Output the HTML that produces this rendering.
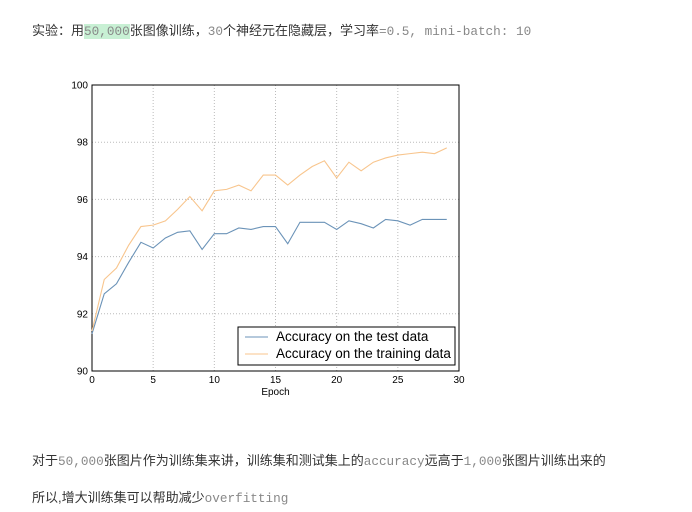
<!DOCTYPE html>
<html><head><meta charset="utf-8">
<style>
body{margin:0;width:692px;height:512px;background:#fff;overflow:hidden;position:relative;font-family:"Liberation Sans","Noto Sans CJK SC",sans-serif;}
.t{position:absolute;font-size:13px;color:#333;white-space:nowrap;}
.m{font-family:"Liberation Mono",monospace;color:#888;font-size:12.7px;}
.hl{background:#c8f0d4;}
</style></head><body>
<div class="t" style="left:32px;top:20px;">实验：用<span class="m hl">50,000</span>张图像训练，<span class="m">30</span>个神经元在隐藏层，学习率<span class="m">=0.5, mini-batch: 10</span></div>
<svg id="chart" width="692" height="512" style="position:absolute;left:0;top:0" font-family="Liberation Sans, sans-serif"></svg>
<div class="t" style="left:32px;top:450px;">对于<span class="m">50,000</span>张图片作为训练集来讲，训练集和测试集上的<span class="m">accuracy</span>远高于<span class="m">1,000</span>张图片训练出来的</div>
<div class="t" style="left:32px;top:487px;">所以,增大训练集可以帮助减少<span class="m">overfitting</span></div>
<script>
const epochs=[0,1,2,3,4,5,6,7,8,9,10,11,12,13,14,15,16,17,18,19,20,21,22,23,24,25,26,27,28,29];
const testAcc=[91.3,92.7,93.05,93.8,94.5,94.3,94.65,94.85,94.9,94.25,94.8,94.8,95.0,94.95,95.05,95.05,94.45,95.2,95.2,95.2,94.95,95.25,95.15,95.0,95.3,95.25,95.1,95.3,95.3,95.3];
const trainAcc=[91.4,93.2,93.6,94.4,95.05,95.1,95.25,95.65,96.1,95.6,96.3,96.35,96.5,96.3,96.85,96.85,96.5,96.85,97.15,97.35,96.75,97.3,97.0,97.3,97.45,97.55,97.6,97.65,97.6,97.8];
const xTicks=[0,5,10,15,20,25,30];
const yTicks=[90,92,94,96,98,100];
const NS="http://www.w3.org/2000/svg";
const svg=document.getElementById('chart');
const L=92,R=459,T=85,B=371;
const xs=v=>L+(v-0)/30*(R-L);
const ys=v=>B-(v-90)/10*(B-T);
function mk(t,a,p){const e=document.createElementNS(NS,t);for(const k in a)e.setAttribute(k,a[k]);(p||svg).appendChild(e);return e;}
xTicks.forEach(v=>{
 const g=mk('line',{x1:xs(v),x2:xs(v),y1:T,y2:B,stroke:'#bbb','stroke-dasharray':'1,2'});
 
 
 const t=mk('text',{x:xs(v),y:B+12,'font-size':10,'text-anchor':'middle',fill:'#000'});t.textContent=v;
 
 
});
yTicks.forEach(v=>{
 const g=mk('line',{x1:L,x2:R,y1:ys(v),y2:ys(v),stroke:'#bbb','stroke-dasharray':'1,2'});
 
 
 const t=mk('text',{x:L-4,y:ys(v)+3.5,'font-size':10,'text-anchor':'end',fill:'#000'});t.textContent=v;
 
 
});
const fr=mk('rect',{x:L,y:T,width:R-L,height:B-T,fill:'none',stroke:'#000','stroke-width':1});


const xt=mk('text',{x:(L+R)/2,y:B+24,'font-size':10,'text-anchor':'middle'});xt.textContent='Epoch';


function line(arr,col,name){
 const p=mk('polyline',{points:arr.map((v,i)=>xs(epochs[i])+','+ys(v)).join(' '),fill:'none',stroke:col,'stroke-width':1.1});
 
 
}
line(testAcc,'#6b93b8','test-accuracy-line');
line(trainAcc,'#f8c58d','training-accuracy-line');
const lg=mk('rect',{x:238,y:327,width:217,height:38,fill:'#fff',stroke:'#000'});


[['Accuracy on the test data','#6b93b8',341],['Accuracy on the training data','#f8c58d',358]].forEach(([s,c,y])=>{
 const l=mk('line',{x1:245,x2:268,y1:y-4,y2:y-4,stroke:c,'stroke-width':1.1});
 
 
 const t=mk('text',{x:276,y:y,'font-size':13.5});t.textContent=s;
 
 
});
</script>
</body></html>
